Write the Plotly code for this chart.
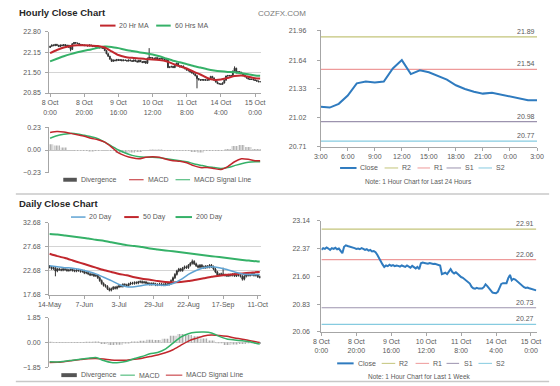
import plotly.graph_objects as go

# ======================= DATA =======================
# ---- hourly (last week, hourly closes) ----
hourly_ticks = [0, 20, 40, 60, 80, 100, 120]
hourly_tick_labels = ["8 Oct<br>0:00", "8 Oct<br>20:00", "9 Oct<br>16:00", "10 Oct<br>12:00",
                      "11 Oct<br>8:00", "14 Oct<br>4:00", "15 Oct<br>0:00"]
hourly_close = [
    22.34, 22.38, 22.36, 22.40, 22.37, 22.33, 22.38, 22.36, 22.39, 22.35, 22.37, 22.30, 22.24,
    22.42, 22.46, 22.44, 22.43, 22.40,
    22.39, 22.38, 22.36, 22.37, 22.35, 22.38, 22.36, 22.33, 22.35, 22.31, 22.33, 22.29, 22.30, 22.27,
    22.20, 22.10, 22.02, 21.93, 21.86,
    21.90, 21.88, 21.92, 21.89, 21.91, 21.88, 21.90, 21.89, 21.87, 21.90, 21.88, 21.86, 21.90, 21.87,
    21.84, 21.89, 21.85, 21.82,
    21.86, 21.80, 21.96, 21.98,
    21.97, 21.96, 21.95, 21.97, 21.95, 21.94, 21.95, 21.93, 21.92, 21.90,
    21.66, 21.68, 21.70, 21.66,
    21.72, 21.80, 21.72, 21.68, 21.71,
    21.66, 21.62, 21.58, 21.56, 21.52, 21.49, 21.46, 21.40,
    21.31, 21.27, 21.26, 21.28, 21.26, 21.27, 21.26,
    21.30, 21.38, 21.33, 21.26, 21.20, 21.15,
    21.14, 21.13, 21.17, 21.26, 21.39, 21.41, 21.40, 21.41, 21.55, 21.64, 21.49, 21.53, 21.51,
    21.47, 21.43, 21.37, 21.33, 21.30, 21.28, 21.29, 21.27, 21.25, 21.23, 21.21, 21.21,
]
hourly_first_open = 22.30
hourly_spike_high = {58: 22.28, 108: 21.70}
hourly_spike_low = {12: 22.18, 86: 21.00}

hourly_ind_idx = [0, 4, 8, 12, 16, 20, 24, 28, 32, 36, 40, 44, 48, 52, 56, 60,
                  64, 68, 72, 76, 80, 84, 88, 92, 96, 100, 104, 108, 112, 116, 120, 123]
ma20_hr = [22.12, 22.22, 22.30, 22.35, 22.37, 22.37, 22.36, 22.35, 22.30, 22.18, 22.06, 22.00,
           21.97, 21.95, 21.93, 21.92, 21.90, 21.86, 21.78, 21.70, 21.63, 21.53, 21.44, 21.33,
           21.27, 21.28, 21.33, 21.39, 21.41, 21.37, 21.32, 21.31]
ma60_hr = [21.86, 21.94, 22.02, 22.09, 22.15, 22.20, 22.24, 22.29, 22.33, 22.32, 22.28, 22.23,
           22.19, 22.15, 22.12, 22.08, 22.02, 21.95, 21.88, 21.83, 21.77, 21.71, 21.66, 21.61,
           21.57, 21.54, 21.52, 21.51, 21.48, 21.45, 21.41, 21.40]
macd_hr = [0.18, 0.19, 0.185, 0.17, 0.155, 0.14, 0.12, 0.105, 0.08, 0.03, -0.03, -0.06,
           -0.08, -0.09, -0.075, -0.07, -0.075, -0.095, -0.11, -0.115, -0.13, -0.16, -0.18, -0.18,
           -0.19, -0.20, -0.17, -0.12, -0.09, -0.095, -0.11, -0.11]
signal_hr = [0.12, 0.145, 0.16, 0.17, 0.165, 0.15, 0.135, 0.115, 0.08, 0.04, 0.00, -0.03,
             -0.055, -0.07, -0.075, -0.075, -0.08, -0.09, -0.10, -0.11, -0.12, -0.14, -0.155, -0.17,
             -0.18, -0.19, -0.18, -0.16, -0.14, -0.125, -0.12, -0.12]

# ---- last 24 hours panel ----
last24_labels = ["3:00", "6:00", "9:00", "12:00", "15:00", "18:00", "21:00", "0:00", "3:00"]
last24_tick_pos = [0, 3, 6, 9, 12, 15, 18, 21, 24]
last24_y_labels = ["20.71", "21.02", "21.33", "21.64", "21.96"]
pivot_names = ["R2", "R1", "S1", "S2"]
pivots_24h = [21.89, 21.54, 20.98, 20.77]

# ---- last week panel ----
week_y_ticks = [20.06, 20.83, 21.60, 22.37, 23.14]
pivots_week = [22.91, 22.06, 20.73, 20.27]

# ---- daily ----
daily_ticks = [0, 18, 36, 54, 72, 90, 108]
daily_tick_labels = ["14-May", "7-Jun", "3-Jul", "29-Jul", "22-Aug", "17-Sep", "11-Oct"]
daily_close = [
    23.4, 23.1, 23.3, 22.6, 23.0, 22.9,
    22.8, 23.0, 22.9, 22.7, 22.8, 22.9, 22.7, 22.6, 22.8, 22.7, 22.5, 22.6,
    22.2, 22.3, 22.0, 21.8, 21.9, 21.6, 21.7,
    21.2, 20.6, 20.0, 19.6, 19.4,
    18.9, 18.6, 18.9, 19.2, 19.0,
    19.3, 19.5, 19.4, 19.8, 19.7, 19.6,
    19.9, 20.1, 20.0, 20.2, 20.1,
    20.3, 20.4, 20.2, 20.3, 20.1,
    20.0, 19.8, 20.0, 19.9, 19.7, 19.8, 19.9, 19.7, 19.8, 19.9,
    19.8, 20.0, 20.6, 21.2,
    21.9, 22.6, 23.0, 22.7,
    23.2, 23.5, 23.3, 23.8,
    24.2, 24.6, 24.1,
    23.7, 23.4, 23.8, 23.5, 23.3,
    23.6, 23.4, 23.8, 23.5, 23.0,
    22.4, 21.8,
    21.9, 22.0, 21.8, 21.7, 21.6,
    21.8, 21.7, 21.9, 21.6, 21.8, 21.7, 21.5,
    20.9,
    21.5, 21.9, 21.7, 21.8, 22.0,
    21.7, 21.8, 21.4, 21.3,
]
daily_first_open = 23.6
daily_spike_high = {74: 25.0, 90: 23.3}
daily_spike_low = {3: 21.5, 100: 20.6}

daily_ind_idx = [0, 4, 8, 12, 16, 20, 24, 28, 32, 36, 40, 44, 48, 52, 56, 60,
                 64, 68, 72, 76, 80, 84, 88, 92, 96, 100, 104, 108, 109]
ma20_day = [23.7, 23.5, 23.3, 23.2, 22.9, 22.5, 22.0, 21.3, 20.6, 19.8, 19.3, 19.3, 19.6, 19.8,
            19.7, 19.6, 20.0, 20.8, 21.9, 22.7, 23.3, 23.5, 23.3, 22.9, 22.4, 22.0, 21.9, 21.9, 21.9]
ma50_day = [26.2, 25.7, 25.3, 24.8, 24.3, 23.8, 23.3, 22.8, 22.4, 22.0, 21.7, 21.3, 21.0, 20.8,
            20.5, 20.3, 20.2, 20.3, 20.5, 20.8, 21.1, 21.4, 21.6, 21.8, 21.95, 22.1, 22.25, 22.4, 22.4]
ma200_day = [30.3, 30.2, 30.0, 29.8, 29.6, 29.4, 29.1, 28.9, 28.6, 28.3, 28.0, 27.8, 27.6, 27.3,
             27.1, 26.9, 26.7, 26.5, 26.3, 26.1, 25.9, 25.7, 25.5, 25.3, 25.1, 24.9, 24.75, 24.6, 24.6]
macd_day = [-1.44, -1.45, -1.40, -1.32, -1.25, -1.18, -1.13, -1.35, -1.50, -1.50, -1.40, -1.20,
            -1.05, -0.85, -0.75, -0.50, -0.05, 0.40, 0.65, 0.75, 0.77, 0.70, 0.45, 0.25, 0.18,
            0.12, 0.05, -0.10, -0.12]
signal_day = [-1.49, -1.48, -1.42, -1.35, -1.28, -1.22, -1.20, -1.24, -1.30, -1.32, -1.32, -1.26,
              -1.18, -1.05, -0.93, -0.77, -0.55, -0.22, 0.10, 0.30, 0.48, 0.55, 0.52, 0.45, 0.33,
              0.24, 0.12, 0.02, 0.00]

# ======================= STYLE =======================
W, H = 560, 386
FONT = "Liberation Sans, Arial, sans-serif"
TF = dict(family=FONT, size=7, color="#595959")
LINE = "#a6a6a6"
GRID = "#d4d4d4"
RED = "#C1272D"
GREEN = "#35B168"
BLUE = "#2F7BBF"
BLUE20 = "#5FA3D3"
C_R2 = "#C3C47A"
C_R1 = "#EE9A9A"
C_S1 = "#9C93AE"
C_S2 = "#86CBE0"
CANDLE = "#333333"
pivot_colors = [C_R2, C_R1, C_S1, C_S2]


def fx(px):
    return px / W


def fy(py):
    return 1 - py / H


def ohlc(close, first_open, wick, spike_hi, spike_lo):
    opens = [first_open] + close[:-1]
    highs, lows = [], []
    for i, (o, c) in enumerate(zip(opens, close)):
        hi = max(o, c) + wick
        lo = min(o, c) - wick
        highs.append(max(hi, spike_hi.get(i, hi)))
        lows.append(min(lo, spike_lo.get(i, lo)))
    return opens, highs, lows


fig = go.Figure()

# ---------------- hourly candles + MAs ----------------
hx = list(range(len(hourly_close)))
ho, hh, hl = ohlc(hourly_close, hourly_first_open, 0.015, hourly_spike_high, hourly_spike_low)
cstyle = dict(line=dict(color=CANDLE, width=1), fillcolor=CANDLE)
fig.add_trace(go.Candlestick(x=hx, open=ho, high=hh, low=hl, close=hourly_close,
                             xaxis="x", yaxis="y", increasing=cstyle, decreasing=cstyle,
                             whiskerwidth=0, showlegend=False, hoverinfo="skip"))
fig.add_trace(go.Scatter(x=hourly_ind_idx, y=ma60_hr, mode="lines", xaxis="x", yaxis="y",
                         line=dict(color=GREEN, width=2, shape="spline", smoothing=0.6),
                         showlegend=False, hoverinfo="skip"))
fig.add_trace(go.Scatter(x=hourly_ind_idx, y=ma20_hr, mode="lines", xaxis="x", yaxis="y",
                         line=dict(color=RED, width=2, shape="spline", smoothing=0.6),
                         showlegend=False, hoverinfo="skip"))

# ---------------- hourly MACD ----------------
div_hr = [m - s for m, s in zip(macd_hr, signal_hr)]
fig.add_trace(go.Bar(x=hourly_ind_idx, y=div_hr, width=3.6, xaxis="x2", yaxis="y2",
                     marker=dict(color="#e0e0e0", line=dict(width=0),
                                 pattern=dict(shape="|", fgcolor="#6e6e6e", size=3, solidity=0.4)),
                     showlegend=False, hoverinfo="skip"))
fig.add_trace(go.Scatter(x=hourly_ind_idx, y=signal_hr, mode="lines", xaxis="x2", yaxis="y2",
                         line=dict(color=GREEN, width=1.5, shape="spline", smoothing=0.6),
                         showlegend=False, hoverinfo="skip"))
fig.add_trace(go.Scatter(x=hourly_ind_idx, y=macd_hr, mode="lines", xaxis="x2", yaxis="y2",
                         line=dict(color=RED, width=1.5, shape="spline", smoothing=0.6),
                         showlegend=False, hoverinfo="skip"))

# ---------------- last 24 hours ----------------
last24 = hourly_close[-25:]
x24 = list(range(len(last24)))
for val, col in zip(pivots_24h, pivot_colors):
    fig.add_trace(go.Scatter(x=[x24[0], x24[-1]], y=[val, val], mode="lines", xaxis="x3", yaxis="y3",
                             line=dict(color=col, width=1.2), showlegend=False, hoverinfo="skip"))
fig.add_trace(go.Scatter(x=x24, y=last24, mode="lines", xaxis="x3", yaxis="y3",
                         line=dict(color=BLUE, width=2), showlegend=False, hoverinfo="skip"))

# ---------------- daily candles + MAs ----------------
dx = list(range(len(daily_close)))
do, dh, dl = ohlc(daily_close, daily_first_open, 0.25, daily_spike_high, daily_spike_low)
fig.add_trace(go.Candlestick(x=dx, open=do, high=dh, low=dl, close=daily_close,
                             xaxis="x4", yaxis="y4", increasing=cstyle, decreasing=cstyle,
                             whiskerwidth=0, showlegend=False, hoverinfo="skip"))
fig.add_trace(go.Scatter(x=daily_ind_idx, y=ma200_day, mode="lines", xaxis="x4", yaxis="y4",
                         line=dict(color=GREEN, width=2, shape="spline", smoothing=0.6),
                         showlegend=False, hoverinfo="skip"))
fig.add_trace(go.Scatter(x=daily_ind_idx, y=ma50_day, mode="lines", xaxis="x4", yaxis="y4",
                         line=dict(color=RED, width=2, shape="spline", smoothing=0.6),
                         showlegend=False, hoverinfo="skip"))
fig.add_trace(go.Scatter(x=daily_ind_idx, y=ma20_day, mode="lines", xaxis="x4", yaxis="y4",
                         line=dict(color=BLUE20, width=1.5, shape="spline", smoothing=0.6),
                         showlegend=False, hoverinfo="skip"))

# ---------------- daily MACD ----------------
div_day = [m - s for m, s in zip(macd_day, signal_day)]
fig.add_trace(go.Bar(x=daily_ind_idx, y=div_day, width=3.6, xaxis="x5", yaxis="y5",
                     marker=dict(color="#e0e0e0", line=dict(width=0),
                                 pattern=dict(shape="|", fgcolor="#6e6e6e", size=3, solidity=0.4)),
                     showlegend=False, hoverinfo="skip"))
fig.add_trace(go.Scatter(x=daily_ind_idx, y=signal_day, mode="lines", xaxis="x5", yaxis="y5",
                         line=dict(color=RED, width=1.5, shape="spline", smoothing=0.6),
                         showlegend=False, hoverinfo="skip"))
fig.add_trace(go.Scatter(x=daily_ind_idx, y=macd_day, mode="lines", xaxis="x5", yaxis="y5",
                         line=dict(color=GREEN, width=1.5, shape="spline", smoothing=0.6),
                         showlegend=False, hoverinfo="skip"))

# ---------------- last week ----------------
for val, col in zip(pivots_week, pivot_colors):
    fig.add_trace(go.Scatter(x=[hx[0], hx[-1]], y=[val, val], mode="lines", xaxis="x6", yaxis="y6",
                             line=dict(color=col, width=1.2), showlegend=False, hoverinfo="skip"))
fig.add_trace(go.Scatter(x=hx, y=hourly_close, mode="lines", xaxis="x6", yaxis="y6",
                         line=dict(color=BLUE, width=2), showlegend=False, hoverinfo="skip"))


# ======================= AXES =======================
def xcfg(x0, x1, rng, anchor, tickvals=None, ticktext=None, showline=True):
    d = dict(domain=[fx(x0), fx(x1)], range=rng, anchor=anchor, showgrid=False, zeroline=False,
             showline=showline, linecolor=LINE, linewidth=1, fixedrange=True, tickfont=TF,
             rangeslider=dict(visible=False))
    if tickvals is not None:
        d.update(tickmode="array", tickvals=tickvals, ticktext=ticktext, ticks="outside",
                 ticklen=3, tickcolor=LINE)
    else:
        d.update(showticklabels=False, ticks="")
    return d


def ycfg(top, bottom, rng, anchor, tickvals, ticktext=None, grid=False, zero=False, standoff=3):
    d = dict(domain=[fy(bottom), fy(top)], range=rng, anchor=anchor, showgrid=grid,
             gridcolor=GRID, gridwidth=1, zeroline=zero, zerolinecolor="#c4c4c4", zerolinewidth=1,
             showline=True, linecolor=LINE, linewidth=1, ticks="outside", ticklen=3,
             tickcolor=LINE, tickmode="array", tickvals=tickvals, tickfont=TF, fixedrange=True,
             ticklabelstandoff=standoff)
    if ticktext is not None:
        d["ticktext"] = ticktext
    else:
        d["tickformat"] = ".2f"
    return d


layout_axes = dict(
    xaxis=xcfg(39.5, 258, [-0.5, 123.3], "y", hourly_ticks, hourly_tick_labels),
    yaxis=ycfg(28.3, 90.7, [20.849, 22.801], "x", [20.85, 21.50, 22.15, 22.80], grid=True),
    xaxis2=xcfg(39.5, 258, [-0.5, 123.3], "y2", showline=False),
    yaxis2=ycfg(125.7, 171.7, [-0.231, 0.231], "x2", [-0.23, 0.0, 0.23], zero=True),
    xaxis3=xcfg(320, 543.5, [0, 24], "y3", last24_tick_pos, last24_labels),
    yaxis3=ycfg(26.7, 145.7, [20.706, 21.961], "x3", [float(t) for t in last24_y_labels],
                ticktext=last24_y_labels, standoff=9),
    xaxis4=xcfg(39.3, 258, [-0.3, 109.5], "y4", daily_ticks, daily_tick_labels),
    yaxis4=ycfg(222.7, 296, [17.679, 32.681], "x4", [17.68, 22.68, 27.68, 32.68], grid=True),
    xaxis5=xcfg(39.3, 258, [-0.3, 109.5], "y5", showline=False),
    yaxis5=ycfg(319.3, 370, [-1.851, 1.851], "x5", [-1.85, 0.0, 1.85], zero=True),
    xaxis6=xcfg(320.7, 543, [0, 123.2], "y6", hourly_ticks, hourly_tick_labels),
    yaxis6=ycfg(220.7, 334, [20.059, 23.141], "x6", week_y_ticks, standoff=6),
)

shapes = []
annotations = []


def text(x, y, s, size=7, color="#595959", anchor="left", bold=False):
    annotations.append(dict(x=fx(x), y=fy(y), xref="paper", yref="paper", text=f"<b>{s}</b>" if bold else s,
                            showarrow=False, xanchor=anchor, yanchor="middle",
                            font=dict(family=FONT, size=size, color=color)))


def legend_line(x0, x1, y, color, width, tx, label):
    shapes.append(dict(type="line", xref="paper", yref="paper", x0=fx(x0), x1=fx(x1),
                       y0=fy(y), y1=fy(y), line=dict(color=color, width=width)))
    text(tx, y, label)


def legend_bar(x0, x1, y, tx, label):
    shapes.append(dict(type="rect", xref="paper", yref="paper", x0=fx(x0), x1=fx(x1),
                       y0=fy(y + 2), y1=fy(y - 2), line=dict(width=0), fillcolor="#555555"))
    text(tx, y, label)


# titles / branding
text(6, 9, "Hourly Close Chart", size=9.5, color="#262626", bold=True)
text(6, 203, "Daily Close Chart", size=9.5, color="#262626", bold=True)
text(253, 10, "COZFX.COM", size=8, color="#7a7a7a")

# separators
shapes.append(dict(type="line", xref="paper", yref="paper", x0=fx(5), x1=fx(556),
                   y0=fy(193.5), y1=fy(193.5), line=dict(color="#c8c8c8", width=1.5)))
shapes.append(dict(type="line", xref="paper", yref="paper", x0=fx(5), x1=fx(556),
                   y0=fy(384.5), y1=fy(384.5), line=dict(color="#c8c8c8", width=1.5)))

# legends
legend_line(92, 108, 22, RED, 2, 110, "20 Hr MA")
legend_line(150, 165, 22, GREEN, 2, 167, "60 Hrs MA")

legend_bar(54, 68, 179, 70, "Divergence")
legend_line(122, 137, 179, RED, 1, 139, "MACD")
legend_line(170, 185, 179, GREEN, 1, 187, "MACD Signal Line")

leg_right_24 = [(340, 357, 359, "Close", BLUE, 2)] + [
    (a, b, t, n, c, 1) for (a, b, t), n, c in zip([(386, 400, 402), (420, 433, 435), (450, 465, 467), (483, 497, 499)],
                                                  pivot_names, pivot_colors)]
for a, b, t, n, c, w in leg_right_24:
    legend_line(a, b, 167, c, w, t, n)
text(421, 180.5, "Note: 1 Hour Chart for Last 24 Hours", size=6.5, anchor="center")

legend_line(62, 77, 217, BLUE20, 1.5, 79, "20 Day")
legend_line(117, 132, 217, RED, 2, 134, "50 Day")
legend_line(170, 187, 217, GREEN, 2, 189, "200 Day")

legend_bar(52, 68, 378, 70, "Divergence")
legend_line(113, 128, 378, GREEN, 1, 130, "MACD")
legend_line(160, 177, 378, RED, 1, 179, "MACD Signal Line")

leg_right_week = [(337, 354, 356, "Close", BLUE, 2)] + [
    (a, b, t, n, c, 1) for (a, b, t), n, c in zip([(383, 397, 399), (418, 432, 434), (450, 463, 466), (483, 497, 499)],
                                                  pivot_names, pivot_colors)]
for a, b, t, n, c, w in leg_right_week:
    legend_line(a, b, 366, c, w, t, n)
text(422, 379.5, "Note: 1 Hour Chart for Last 1 Week", size=6.5, anchor="center")

# pivot value labels
for val in pivots_24h:
    annotations.append(dict(x=x24[-1], y=val, xref="x3", yref="y3", text=f"{val:.2f}", showarrow=False,
                            xanchor="right", yanchor="bottom", yshift=0, font=TF))
for val in pivots_week:
    annotations.append(dict(x=hx[-1], y=val, xref="x6", yref="y6", text=f"{val:.2f}", showarrow=False,
                            xanchor="right", yanchor="bottom", yshift=0, font=TF))

fig.update_layout(
    width=W, height=H, autosize=False,
    margin=dict(l=0, r=0, t=0, b=0),
    paper_bgcolor="white", plot_bgcolor="white",
    showlegend=False, shapes=shapes, annotations=annotations,
    font=dict(family=FONT),
    **layout_axes,
)

fig.write_html("out.html", config={"displayModeBar": False, "staticPlot": True},
               post_script="document.body.style.margin='0';document.body.style.overflow='hidden';")
